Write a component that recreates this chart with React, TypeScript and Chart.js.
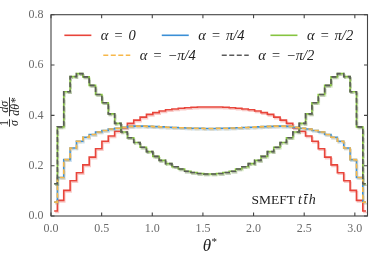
import React, { useEffect, useRef } from "react";
import { Chart, registerables } from "chart.js";

Chart.register(...registerables);

// ---------------- data ----------------
const BIN_COUNT = 50;
// bin centres of theta* in [0, pi]
const thetaCenters: number[] = Array.from({ length: BIN_COUNT }, (_, i) => ((i + 0.5) * Math.PI) / BIN_COUNT);

const alphaZero = [
  0.020, 0.062, 0.102, 0.140, 0.172, 0.203, 0.234, 0.267, 0.297, 0.318,
  0.337, 0.350, 0.368, 0.381, 0.393, 0.404, 0.411, 0.417, 0.422, 0.425,
  0.428, 0.430, 0.432, 0.433, 0.433, 0.433, 0.433, 0.432, 0.430, 0.428,
  0.425, 0.422, 0.417, 0.411, 0.404, 0.393, 0.381, 0.368, 0.350, 0.337,
  0.318, 0.297, 0.267, 0.234, 0.203, 0.172, 0.140, 0.102, 0.062, 0.020,
];

const alphaPlusQuarterPi = [
  0.055, 0.153, 0.224, 0.270, 0.297, 0.313, 0.324, 0.334, 0.340, 0.346,
  0.349, 0.353, 0.356, 0.357, 0.357, 0.356, 0.355, 0.354, 0.353, 0.352,
  0.351, 0.350, 0.349, 0.349, 0.348, 0.348, 0.349, 0.349, 0.350, 0.351,
  0.352, 0.353, 0.354, 0.355, 0.356, 0.357, 0.357, 0.356, 0.353, 0.349,
  0.346, 0.340, 0.334, 0.324, 0.313, 0.297, 0.270, 0.224, 0.153, 0.055,
];

const alphaPlusHalfPi = [
  0.128, 0.354, 0.494, 0.554, 0.566, 0.553, 0.519, 0.483, 0.450, 0.406,
  0.368, 0.334, 0.311, 0.292, 0.273, 0.256, 0.237, 0.221, 0.208, 0.196,
  0.187, 0.178, 0.173, 0.169, 0.167, 0.167, 0.169, 0.173, 0.178, 0.187,
  0.196, 0.208, 0.221, 0.237, 0.256, 0.273, 0.292, 0.311, 0.334, 0.368,
  0.406, 0.450, 0.483, 0.519, 0.553, 0.566, 0.554, 0.494, 0.354, 0.128,
];

const alphaMinusQuarterPi = [
  0.055, 0.153, 0.224, 0.270, 0.297, 0.313, 0.324, 0.334, 0.340, 0.346,
  0.349, 0.353, 0.356, 0.357, 0.357, 0.356, 0.355, 0.354, 0.353, 0.352,
  0.351, 0.350, 0.349, 0.349, 0.348, 0.348, 0.349, 0.349, 0.350, 0.351,
  0.352, 0.353, 0.354, 0.355, 0.356, 0.357, 0.357, 0.356, 0.353, 0.349,
  0.346, 0.340, 0.334, 0.324, 0.313, 0.297, 0.270, 0.224, 0.153, 0.055,
];

const alphaMinusHalfPi = [
  0.128, 0.354, 0.494, 0.554, 0.566, 0.553, 0.519, 0.483, 0.450, 0.406,
  0.368, 0.334, 0.311, 0.292, 0.273, 0.256, 0.237, 0.221, 0.208, 0.196,
  0.187, 0.178, 0.173, 0.169, 0.167, 0.167, 0.169, 0.173, 0.178, 0.187,
  0.196, 0.208, 0.221, 0.237, 0.256, 0.273, 0.292, 0.311, 0.334, 0.368,
  0.406, 0.450, 0.483, 0.519, 0.553, 0.566, 0.554, 0.494, 0.354, 0.128,
];

const seriesLabels = ["α = 0", "α = π/4", "α = π/2", "α = −π/4", "α = −π/2"];
const xTickValues = [0, 0.5, 1.0, 1.5, 2.0, 2.5, 3.0];
const yTickValues = [0, 0.2, 0.4, 0.6, 0.8];
const annotationText = ["SMEFT", "tt̄h"];

// ---------------- styles ----------------
const SERIF = '"Liberation Serif", "DejaVu Serif", serif';
const COLORS = ["#e8443a", "#3a8fd6", "#86c440", "#f7b84a", "#5a5a5a"];
const DASHES: number[][] = [[], [], [], [5, 2.5], [5, 2.5]];
const ORDERS = [5, 4, 3, 2, 1];

function rgba(hex: string, a: number) {
  const n = parseInt(hex.slice(1), 16);
  return `rgba(${(n >> 16) & 255},${(n >> 8) & 255},${n & 255},${a})`;
}

const shadowPlugin = {
  id: "lineShadow",
  beforeDatasetDraw(chart: any, args: any) {
    const ds = chart.data.datasets[args.index];
    const ctx = chart.ctx;
    ctx.save();
    ctx.shadowColor = rgba(ds.borderColor, 0.28);
    ctx.shadowOffsetX = 1;
    ctx.shadowOffsetY = 1.5;
    ctx.shadowBlur = 0.5;
  },
  afterDatasetDraw(chart: any) {
    chart.ctx.restore();
  },
};

const decorPlugin = {
  id: "decor",
  afterDraw(chart: any) {
    const { ctx, chartArea: a, scales } = chart;
    ctx.save();
    // frame
    ctx.strokeStyle = "#444";
    ctx.lineWidth = 1.1;
    ctx.strokeRect(a.left, a.top, a.right - a.left, a.bottom - a.top);
    // inward ticks on all four sides
    const tl = 3.5;
    ctx.beginPath();
    for (const v of xTickValues) {
      const px = scales.x.getPixelForValue(v);
      ctx.moveTo(px, a.bottom);
      ctx.lineTo(px, a.bottom - tl);
      ctx.moveTo(px, a.top);
      ctx.lineTo(px, a.top + tl);
    }
    for (const v of yTickValues) {
      const py = scales.y.getPixelForValue(v);
      ctx.moveTo(a.left, py);
      ctx.lineTo(a.left + tl, py);
      ctx.moveTo(a.right, py);
      ctx.lineTo(a.right - tl, py);
    }
    ctx.stroke();

    // legend (centered rows, inside plot)
    const cx = (a.left + a.right) / 2 - 0.5;
    const rows = [
      { idx: [0, 1, 2], y: 35.3 },
      { idx: [3, 4], y: 55.3 },
    ];
    const lineLen = 27;
    const lineGap = 9.5;
    const itemGap = 26;
    ctx.font = `italic 14.5px ${SERIF}`;
    (ctx as any).wordSpacing = "1.5px";
    ctx.textBaseline = "middle";
    ctx.textAlign = "left";
    for (const row of rows) {
      const widths = row.idx.map((i) => lineLen + lineGap + ctx.measureText(seriesLabels[i]).width);
      const total = widths.reduce((s, w) => s + w, 0) + itemGap * (row.idx.length - 1);
      let x = cx - total / 2;
      row.idx.forEach((i, k) => {
        ctx.save();
        ctx.strokeStyle = COLORS[i];
        ctx.lineWidth = 1.6;
        ctx.setLineDash(DASHES[i]);
        ctx.beginPath();
        ctx.moveTo(x, row.y);
        ctx.lineTo(x + lineLen, row.y);
        ctx.stroke();
        ctx.restore();
        ctx.fillStyle = "#222";
        ctx.fillText(seriesLabels[i], x + lineLen + lineGap, row.y + 0.5);
        x += widths[k] + itemGap;
      });
    }
    (ctx as any).wordSpacing = "0px";

    // annotation
    ctx.fillStyle = "#222";
    ctx.textBaseline = "alphabetic";
    ctx.font = `13.5px ${SERIF}`;
    ctx.fillText(annotationText[0], 251.5, 203.5);
    ctx.font = `italic 14px ${SERIF}`;
    (ctx as any).letterSpacing = "1.5px";
    ctx.fillText(annotationText[1], 298, 203.5);
    (ctx as any).letterSpacing = "0px";

    // x axis title
    ctx.fillStyle = "#222";
    ctx.textAlign = "center";
    ctx.font = `italic 17px ${SERIF}`;
    ctx.fillText("θ", 207, 251);
    ctx.font = `11px ${SERIF}`;
    ctx.textAlign = "left";
    ctx.fillText("*", 211.5, 245);

    // y axis title (rotated fraction)
    ctx.save();
    ctx.translate(10, 112);
    ctx.rotate(-Math.PI / 2);
    ctx.textAlign = "center";
    const fs = 12;
    ctx.font = `${fs}px ${SERIF}`;
    const wOne = ctx.measureText("1").width;
    ctx.font = `italic ${fs}px ${SERIF}`;
    const wSig = ctx.measureText("σ").width;
    const wdS = ctx.measureText("dσ").width;
    const wdT = ctx.measureText("dθ*").width;
    const w1 = Math.max(wOne, wSig) + 1.5;
    const w2 = Math.max(wdS, wdT) + 1;
    const gap = 3;
    const total = w1 + gap + w2;
    const x0 = -total / 2;
    ctx.font = `${fs}px ${SERIF}`;
    ctx.fillText("1", x0 + w1 / 2, -2.2);
    ctx.fillRect(x0, -1.0, w1, 0.9);
    ctx.font = `italic ${fs}px ${SERIF}`;
    ctx.fillText("σ", x0 + w1 / 2, 7.5);
    const x1 = x0 + w1 + gap;
    ctx.fillText("dσ", x1 + w2 / 2, -2.2);
    ctx.fillRect(x1, -1.0, w2, 0.9);
    ctx.fillText("dθ*", x1 + w2 / 2, 9);
    ctx.restore();

    ctx.restore();
  },
};

export default function App() {
  const canvasRef = useRef<HTMLCanvasElement | null>(null);

  useEffect(() => {
    if (!canvasRef.current) return;
    const series = [alphaZero, alphaPlusQuarterPi, alphaPlusHalfPi, alphaMinusQuarterPi, alphaMinusHalfPi];
    const chart = new Chart(canvasRef.current, {
      type: "line",
      data: {
        datasets: series.map((vals, i) => ({
          label: seriesLabels[i],
          data: vals.map((v, k) => ({ x: thetaCenters[k], y: v })),
          borderColor: COLORS[i],
          backgroundColor: COLORS[i],
          borderWidth: 1.6,
          borderDash: DASHES[i],
          pointRadius: 0,
          stepped: "middle",
          fill: false,
          order: ORDERS[i],
        })),
      },
      options: {
        responsive: false,
        animation: false,
        devicePixelRatio: 1,
        layout: { padding: { top: 12, right: 6.5, left: 0, bottom: 0 } },
        plugins: {
          legend: { display: false },
          tooltip: { enabled: false },
        },
        scales: {
          x: {
            type: "linear",
            min: 0,
            max: 3.125,
            grid: { display: false, drawTicks: false },
            border: { display: false },
            afterBuildTicks: (s: any) => {
              s.ticks = xTickValues.map((v) => ({ value: v }));
            },
            afterFit: (s: any) => {
              s.height = 41;
            },
            ticks: {
              autoSkip: false,
              maxRotation: 0,
              padding: 6,
              color: "#6a6a6a",
              font: { family: SERIF, size: 12 },
              callback: (v: any) => Number(v).toFixed(1),
            },
          },
          y: {
            type: "linear",
            min: 0,
            max: 0.8,
            grid: { display: false, drawTicks: false },
            border: { display: false },
            afterBuildTicks: (s: any) => {
              s.ticks = yTickValues.map((v) => ({ value: v }));
            },
            afterFit: (s: any) => {
              s.width = 51;
            },
            ticks: {
              autoSkip: false,
              padding: 7.5,
              color: "#6a6a6a",
              font: { family: SERIF, size: 12 },
              callback: (v: any) => Number(v).toFixed(1),
            },
          },
        },
      },
      plugins: [shadowPlugin, decorPlugin],
    } as any);
    return () => chart.destroy();
  }, []);

  return (
    <div style={{ position: "absolute", left: 0, top: 0, width: 374, height: 257, background: "#fff" }}>
      <canvas ref={canvasRef} width={374} height={257} style={{ display: "block" }} />
    </div>
  );
}
